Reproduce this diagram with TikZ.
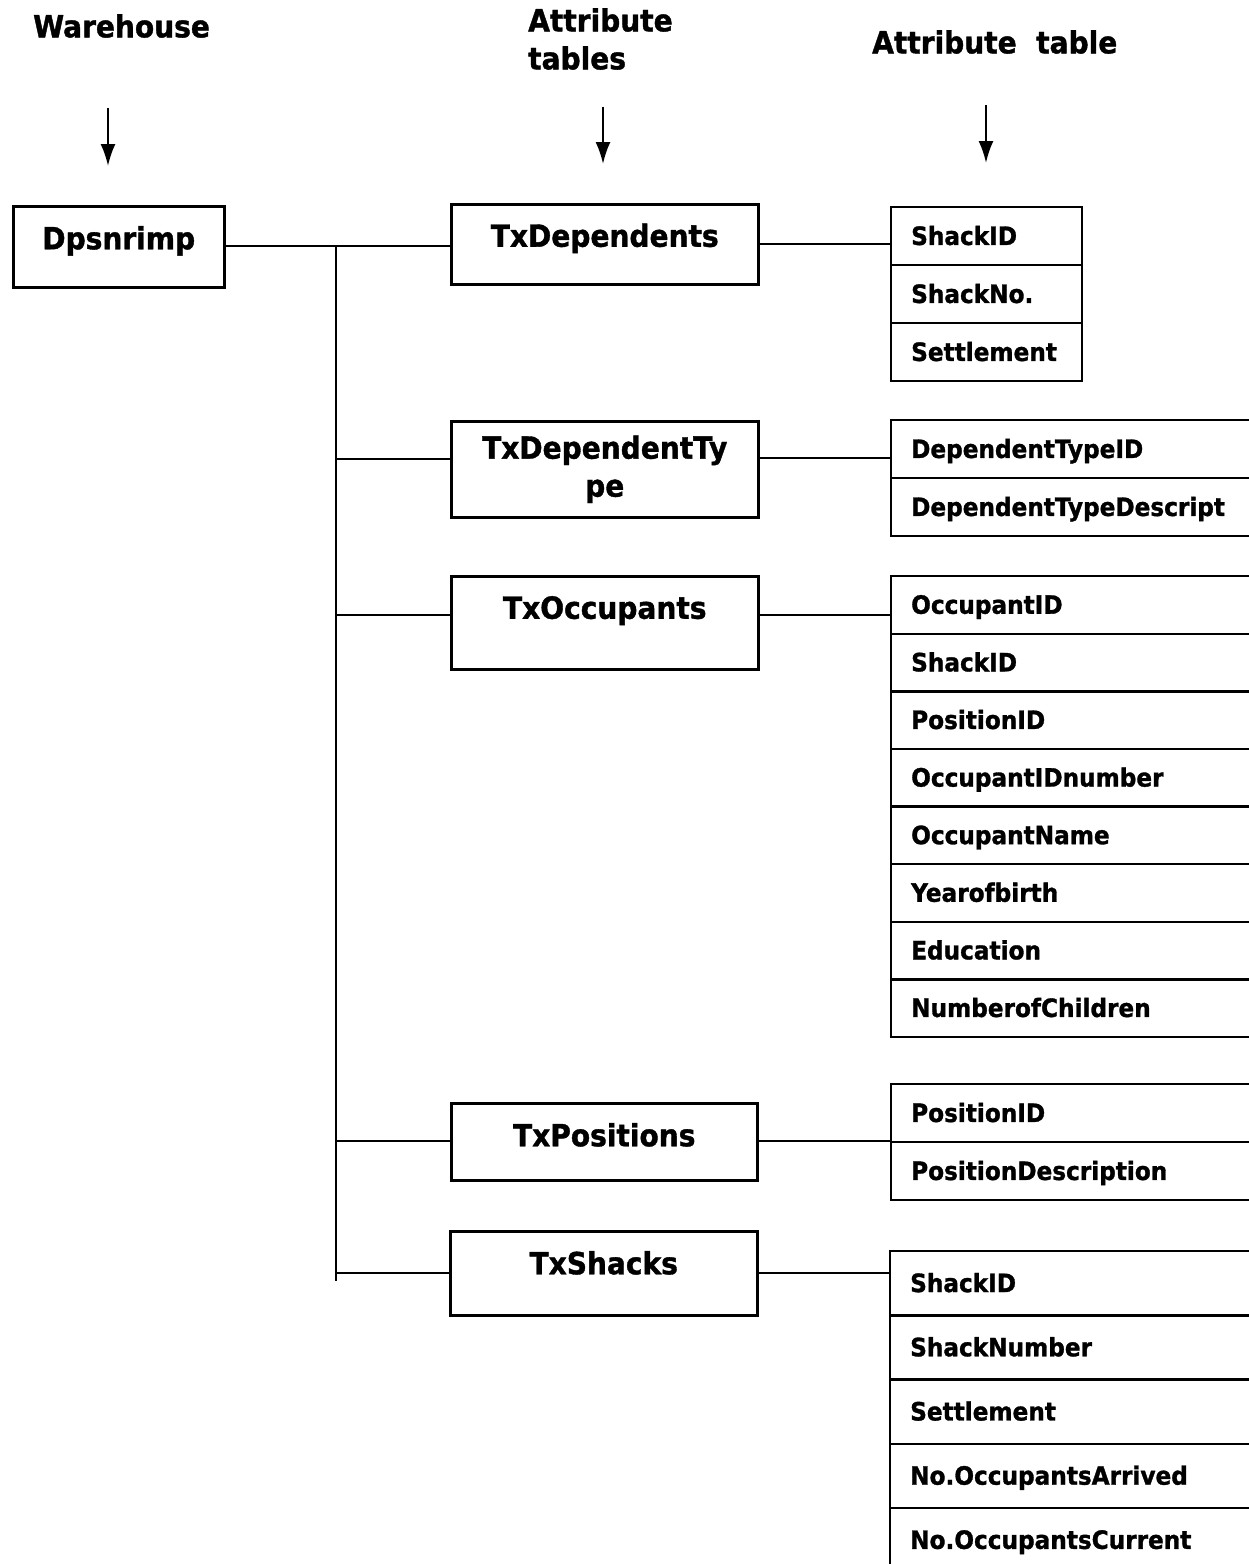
\documentclass[tikz,border=0pt]{standalone}
\usepackage{fontspec}
\setmainfont{DejaVu Sans}[FakeStretch=0.92, BoldFeatures={FakeBold=1.2}]
\usetikzlibrary{arrows.meta}
\tikzset{
  hdr/.style={font=\fontsize{30.5}{38}\selectfont\bfseries, inner sep=0pt},
  tbox/.style={draw, line width=2.5pt, font=\fontsize{30.5}{38}\selectfont\bfseries,
    anchor=north west, minimum width=307pt, inner sep=0pt, align=center},
  cell/.style={draw, line width=2.4pt, font=\fontsize{25.2}{30}\selectfont\bfseries,
    anchor=north west, inner xsep=20pt, inner ysep=0pt, text height=17.5pt,
    text depth=0pt, align=left},
  wcell/.style={cell, minimum width=372pt, text width=332pt},
  conn/.style={line width=2.4pt},
  arr/.style={line width=2.2pt, -{Latex[length=22pt,width=15pt]}}
}
\begin{document}
\begin{tikzpicture}[x=1pt,y=-1pt]
\useasboundingbox (0,0) rectangle (1249,1564);
\clip (0,0) rectangle (1249,1564);
\fill[white] (0,0) rectangle (1249,1564);

% headers
\node[hdr, anchor=west] (h1) at (33,26) {Warehouse};
\node[hdr, anchor=north west, align=left] (h2) at (528,8) {Attribute\\tables};
\node[hdr, anchor=west] (h3) at (872,42) {Attribute\ \ table};

\coordinate (w1) at (108,108); \coordinate (w2) at (108,166);
\coordinate (m1) at (603,107); \coordinate (m2) at (603,164);
\coordinate (r1) at (986,105); \coordinate (r2) at (986,163);
\draw[arr] (w1) -- (w2);
\draw[arr] (m1) -- (m2);
\draw[arr] (r1) -- (r2);

% warehouse
\node[tbox, minimum width=211pt, minimum height=81pt, text height=22pt, text depth=17pt] (dps) at (12,205) {Dpsnrimp};

% attribute tables (middle)
\node[tbox, minimum height=80pt, text height=22pt, text depth=17pt] (txdep) at (450,203) {TxDependents};
\node[tbox, minimum height=96pt] (txdt) at (450,420) {TxDependentTy\\pe};
\node[tbox, minimum height=93pt, text height=22pt, text depth=30pt] (txocc) at (450,575) {TxOccupants};
\node[tbox, minimum width=306pt, minimum height=77pt, text height=22pt, text depth=13pt] (txpos) at (450,1102) {TxPositions};
\node[tbox, minimum width=307pt, minimum height=84pt, text height=22pt, text depth=20pt] (txsh) at (449,1230) {TxShacks};

% attribute tables (right)
\foreach \t [count=\i from 0] in {ShackID,ShackNo.,Settlement}
  \node[cell, minimum width=191pt, text width=151pt, minimum height=58pt] (a1r\i) at (890,206+58*\i) {\t};
\foreach \t [count=\i from 0] in {DependentTypeID,DependentTypeDescript}
  \node[wcell, minimum height=58pt] (a2r\i) at (890,419+58*\i) {\t};
\foreach \t [count=\i from 0] in {OccupantID,ShackID,PositionID,OccupantIDnumber,OccupantName,Yearofbirth,Education,NumberofChildren}
  \node[wcell, minimum height=57.6pt] (a3r\i) at (890,575+57.6*\i) {\t};
\foreach \t [count=\i from 0] in {PositionID,PositionDescription}
  \node[wcell, minimum height=58pt] (a4r\i) at (890,1083+58*\i) {\t};
\foreach \t [count=\i from 0] in {ShackID,ShackNumber,Settlement,No.OccupantsArrived,No.OccupantsCurrent}
  \node[wcell, minimum height=64.2pt] (a5r\i) at (889,1250+64.2*\i) {\t};

% bus and branches
\coordinate (bt) at (336,246);
\coordinate (bb) at (336,1281);
\coordinate (b1) at (336,246);
\coordinate (b2) at (336,459);
\coordinate (b3) at (336,615);
\coordinate (b4) at (336,1141);
\coordinate (b5) at (336,1273);
\draw[conn] (dps.east |- b1) -- (b1 -| txdep.west);
\draw[conn] (bt) -- (bb);
\draw[conn] (b2) -- (b2 -| txdt.west);
\draw[conn] (b3) -- (b3 -| txocc.west);
\draw[conn] (b4) -- (b4 -| txpos.west);
\draw[conn] (b5) -- (b5 -| txsh.west);

% connectors to attribute tables
\coordinate (c1) at (757,244);
\coordinate (c2) at (757,458);
\coordinate (c3) at (757,615);
\coordinate (c4) at (757,1141);
\coordinate (c5) at (757,1273);
\draw[conn] (txdep.east |- c1) -- (c1 -| a1r0.west);
\draw[conn] (txdt.east |- c2) -- (c2 -| a2r0.west);
\draw[conn] (txocc.east |- c3) -- (c3 -| a3r0.west);
\draw[conn] (txpos.east |- c4) -- (c4 -| a4r0.west);
\draw[conn] (txsh.east |- c5) -- (c5 -| a5r0.west);
\end{tikzpicture}
\end{document}
